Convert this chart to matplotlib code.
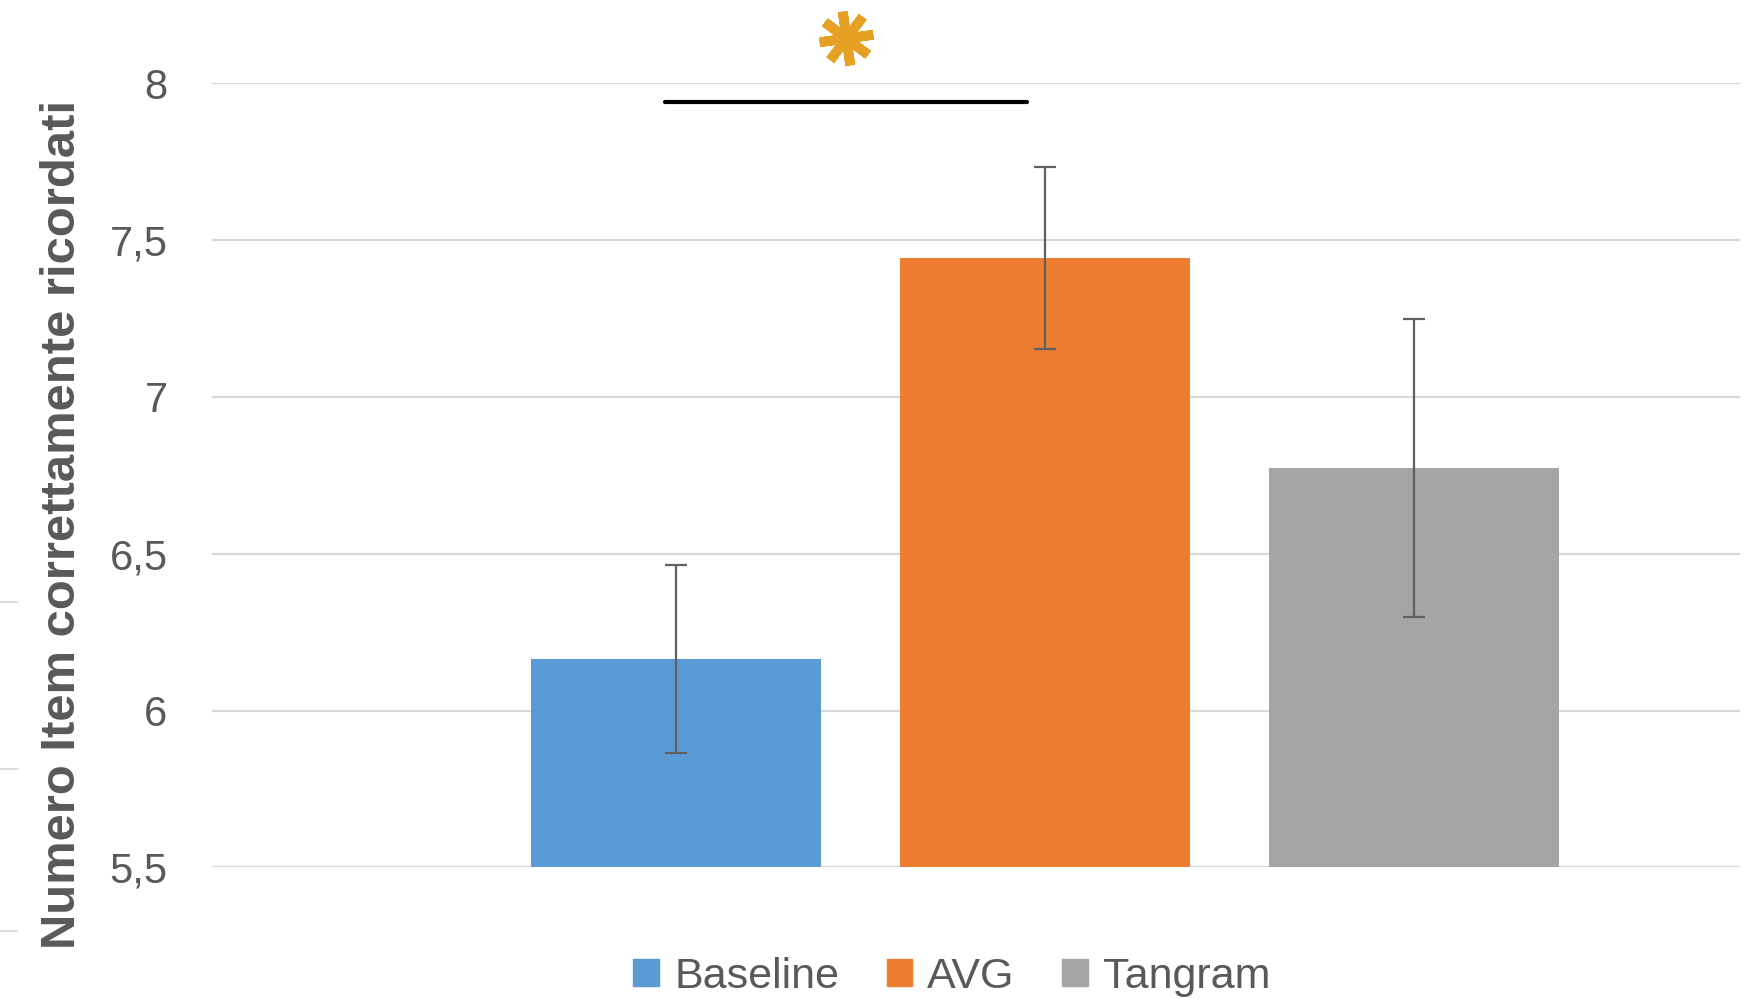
import numpy as np
import matplotlib
matplotlib.use('Agg')
import matplotlib.pyplot as plt
from matplotlib.lines import Line2D
from matplotlib.markers import MarkerStyle

# data
groups = ['Baseline', 'AVG', 'Tangram']
means = [6.165, 7.442, 6.773]
errors = [0.30, 0.29, 0.475]
colors = ['#5B9BD5', '#ED7D31', '#A5A5A5']
yticks = [5.5, 6, 6.5, 7, 7.5, 8]
ytick_labels = ['5,5', '6', '6,5', '7', '7,5', '8']
ylabel = 'Numero Item correttamente ricordati'

# significance marker between Baseline and AVG
sig_x = [-0.03, 0.952]
sig_y = 7.941
star_x = 0.462
star_y = 8.145

plt.rcParams['font.family'] = ['Liberation Sans', 'DejaVu Sans']
txt = '#595959'

fig = plt.figure(figsize=(17.48, 9.99), dpi=100)
ax = fig.add_axes([0.1213, 0.1318, 0.8742, 0.7848])

x = np.arange(len(groups))
ax.bar(x, [m - 5.5 for m in means], bottom=5.5, width=0.786, color=colors, zorder=2)
ax.errorbar(x, means, yerr=errors, fmt='none', ecolor='#606060',
            elinewidth=1.6, capsize=8, capthick=1.6, zorder=3)

ax.set_xlim(-1.256, 2.884)
ax.set_ylim(5.5, 8)
ax.set_yticks(yticks)
ax.set_yticklabels(ytick_labels)
ax.set_xticks([])
ax.tick_params(axis='y', length=0, pad=32, labelsize=30, labelcolor=txt)
ax.grid(axis='y', color='#D9D9D9', linewidth=1.6, zorder=0)
for s in ax.spines.values():
    s.set_visible(False)

# significance line + asterisk
ax.plot(sig_x, [sig_y, sig_y], color='black', linewidth=3, solid_capstyle='round',
        clip_on=False, zorder=4)
ax.plot([star_x], [star_y], linestyle='none',
        marker=MarkerStyle((8, 2, 8), capstyle='round'),
        markersize=39, markeredgewidth=7, color='#E6A024', clip_on=False, zorder=4)

fig.text(0.0358, 0.4755, ylabel, rotation=90, ha='center', va='center',
         fontsize=35.3, fontweight='bold', color=txt)

handles = [plt.Rectangle((0, 0), 1, 1, color=c) for c in colors]
fig.legend(handles, groups, loc='center', bbox_to_anchor=(0.5446, 0.0225),
           ncol=3, frameon=False, fontsize=31, labelcolor=txt,
           handlelength=0.6, handleheight=0.6, handletextpad=0.35,
           columnspacing=1.1)

# leftover axis marks at the left edge of the crop
for yy in [602, 769, 931]:
    fig.add_artist(Line2D([0, 17 / 1748], [1 - yy / 999, 1 - yy / 999],
                          color='#D9D9D9', linewidth=1.4))

fig.savefig('out.png', dpi=100)
